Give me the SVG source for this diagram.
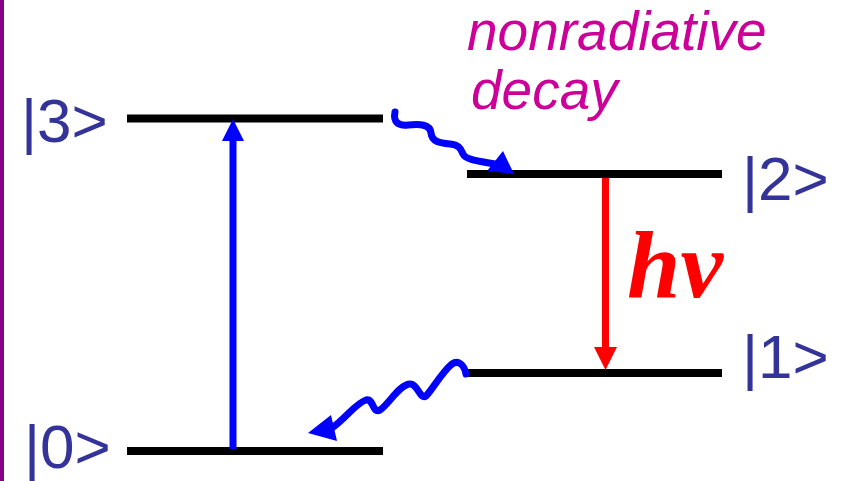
<svg xmlns="http://www.w3.org/2000/svg" width="841" height="481" viewBox="0 0 841 481">
<style>
.lvl{stroke:#000;stroke-width:8;fill:none}
.lbl{font-family:"Liberation Sans",Arial,sans-serif;font-size:62px;fill:#333399}
.note{font-family:"Liberation Sans",Arial,sans-serif;font-size:55px;font-style:italic;fill:#cc0099}
.wave{stroke:#0000ff;stroke-width:7;fill:none;stroke-linecap:round}
</style>
<defs>
<marker id="hb" markerUnits="userSpaceOnUse" markerWidth="22" markerHeight="22" refX="0" refY="11" orient="auto" overflow="visible"><path d="M0,0 L22,11 L0,22 z" fill="#0000ff"/></marker>
<marker id="hr" markerUnits="userSpaceOnUse" markerWidth="23" markerHeight="23" refX="0" refY="11.5" orient="auto" overflow="visible"><path d="M0,0 L23,11.5 L0,23 z" fill="#ff0000"/></marker>
</defs>
<rect x="0" y="0" width="841" height="481" fill="#fff"/>
<rect x="0" y="0" width="4" height="481" fill="#850085"/>
<g id="level3"><line class="lvl" x1="127" y1="118.5" x2="383" y2="118.5"/><text class="lbl" x="21" y="142">|3&gt;</text></g>
<g id="level0"><line class="lvl" x1="127" y1="451" x2="383" y2="451"/><text class="lbl" x="24" y="468">|0&gt;</text></g>
<g id="level2"><line class="lvl" x1="467" y1="174" x2="722" y2="174"/><text class="lbl" x="742" y="200">|2&gt;</text></g>
<g id="level1"><line class="lvl" x1="467" y1="373" x2="722" y2="373"/><text class="lbl" x="742" y="378">|1&gt;</text></g>
<g id="labels">
<text class="note" x="467" y="50">nonradiative</text>
<text class="note" x="471" y="109">decay</text>
<text x="627" y="297" font-family="Liberation Serif,'Times New Roman',serif" font-size="96" font-weight="bold" font-style="italic" fill="#ff0000">hν</text>
</g>
<g id="connectors">
<line x1="233" y1="449" x2="233" y2="141" stroke="#0000ff" stroke-width="7" marker-end="url(#hb)"/>
<line x1="605.5" y1="178" x2="605.5" y2="347" stroke="#ff0000" stroke-width="7" marker-end="url(#hr)"/>
<path class="wave" d="M395,112 C393,122 398,126 408,125 C420,124 430,124 431,133 C432,142 440,143 450,144 C460,145 461,150 463,154 C466,160 478,161 495,164"/>
<polygon points="487,171 503,151 514,174" fill="#0000ff"/>
<path class="wave" d="M466,374 C464,364 458,360 452,364 C442,372 432,390 426,396 C420,400 418,384 410,384 C400,384 388,405 380,410 C372,414 374,398 366,400 C356,403 346,418 332,428"/>
<polygon points="308,433 331,415 337,441" fill="#0000ff"/>
</g>
</svg>
